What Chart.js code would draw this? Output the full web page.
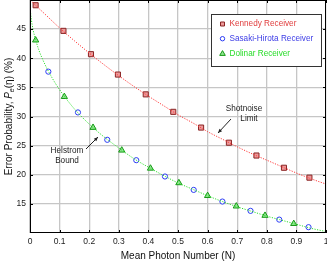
<!DOCTYPE html>
<html lang="en">
<head>
    <meta charset="UTF-8">
    <title>Error Probability vs Mean Photon Number</title>
    <script src="https://cdn.jsdelivr.net/npm/chart.js"></script>
    <style>
        html, body { margin: 0; padding: 0; background: #fff; }
        .box { width: 327px; height: 262px; position: relative; }
    </style>
</head>
<body>
    <div class="box">
        <canvas id="grafico" width="327" height="262"></canvas>
    </div>

<script>
    // smooth theory curves
    const curvaN = [0, 0.05, 0.1, 0.15, 0.2, 0.25, 0.3, 0.35, 0.4, 0.45, 0.5, 0.55, 0.6, 0.65, 0.7, 0.75, 0.8, 0.85, 0.9, 0.95, 1];
    const shotnoise = [50, 47.6, 45.2, 43.0, 40.9, 38.9, 37.0, 35.2, 33.5, 31.9, 30.3, 28.9, 27.4, 26.1, 24.8, 23.6, 22.5, 21.4, 20.3, 19.3, 18.4];

    const helstromN = [0, 0.002, 0.005, 0.01, 0.02, 0.03, 0.05, 0.075, 0.1, 0.15, 0.2, 0.25, 0.3, 0.35, 0.4, 0.45, 0.5, 0.55, 0.6, 0.65, 0.7, 0.75, 0.8, 0.85, 0.9, 0.95, 1];
    const helstrom = [50, 47.8, 46.5, 45.0, 43.0, 41.4, 39.0, 36.6, 34.6, 31.3, 28.7, 26.5, 24.6, 22.8, 21.3, 19.9, 18.6, 17.5, 16.4, 15.4, 14.5, 13.7, 12.9, 12.2, 11.5, 10.8, 10.25];

    // receiver points
    const kennedyN = [0.019, 0.113, 0.206, 0.297, 0.391, 0.484, 0.578, 0.672, 0.765, 0.858, 0.944];
    const kennedyP = [49.1, 44.7, 40.7, 37.2, 33.8, 30.8, 28.1, 25.5, 23.3, 21.2, 19.5];

    const sasakiN = [0.062, 0.162, 0.261, 0.359, 0.456, 0.553, 0.650, 0.745, 0.842, 0.941];
    const sasakiP = [37.7, 30.7, 26.0, 22.5, 19.7, 17.4, 15.4, 13.8, 12.3, 11.0];

    const dolinarN = [0.019, 0.116, 0.213, 0.310, 0.407, 0.503, 0.600, 0.697, 0.794, 0.891];
    const dolinarP = [43.1, 33.4, 28.1, 24.2, 21.1, 18.6, 16.4, 14.6, 13.0, 11.6];

    const xTicks = [0, 0.1, 0.2, 0.3, 0.4, 0.5, 0.6, 0.7, 0.8, 0.9, 1];
    const yTicks = [15, 20, 25, 30, 35, 40, 45];

    const legenda = [
        { nome: 'Kennedy Receiver', cor: '#e03c3c', estilo: 'rect' },
        { nome: 'Sasaki-Hirota Receiver', cor: '#3c3ce6', estilo: 'circle' },
        { nome: 'Dolinar Receiver', cor: '#28dc28', estilo: 'triangle' }
    ];

    function pares(xs, ys) {
        let out = [];
        for (let i = 0; i < xs.length; i++) out.push({ x: xs[i], y: ys[i] });
        return out;
    }

    const fonte = '"Liberation Sans", Arial, sans-serif';

    function seta(ctx, x1, y1, x2, y2) {
        // line from (x1,y1) with head at (x2,y2)
        ctx.strokeStyle = '#222';
        ctx.fillStyle = '#222';
        ctx.lineWidth = 1;
        ctx.beginPath();
        ctx.moveTo(x1, y1);
        ctx.lineTo(x2, y2);
        ctx.stroke();
        const ang = Math.atan2(y2 - y1, x2 - x1);
        const L = 4.5, W = 0.4;
        ctx.beginPath();
        ctx.moveTo(x2, y2);
        ctx.lineTo(x2 - L * Math.cos(ang - W), y2 - L * Math.sin(ang - W));
        ctx.lineTo(x2 - L * Math.cos(ang + W), y2 - L * Math.sin(ang + W));
        ctx.closePath();
        ctx.fill();
    }

    // pin the plot box to where it sits in the reference
    const caixa = {
        id: 'caixa',
        afterLayout(chart) {
            const a = chart.chartArea;
            a.top = 0;
            a.right = 326;
            a.width = a.right - a.left;
            a.height = a.bottom - a.top;
            const sx = chart.scales.x, sy = chart.scales.y;
            sx.right = 326; sx.width = sx.right - sx.left; sx.configure();
            sy.top = 0; sy.height = sy.bottom - sy.top; sy.configure();
        }
    };

    const extras = {
        id: 'extras',
        afterDraw(chart) {
            const ctx = chart.ctx;
            const a = chart.chartArea;
            const sx = chart.scales.x, sy = chart.scales.y;
            ctx.save();

            // box + inward ticks
            ctx.strokeStyle = '#000';
            ctx.lineWidth = 1;
            ctx.strokeRect(a.left + 0.5, a.top + 0.5, a.right - a.left - 1, a.bottom - a.top - 1);
            ctx.beginPath();
            xTicks.forEach(v => {
                const px = Math.round(sx.getPixelForValue(v)) + 0.5;
                ctx.moveTo(px, a.bottom); ctx.lineTo(px, a.bottom - 3);
                ctx.moveTo(px, a.top); ctx.lineTo(px, a.top + 3);
            });
            yTicks.forEach(v => {
                const py = Math.round(sy.getPixelForValue(v)) + 0.5;
                ctx.moveTo(a.left, py); ctx.lineTo(a.left + 3, py);
                ctx.moveTo(a.right, py); ctx.lineTo(a.right - 3, py);
            });
            ctx.stroke();

            // y title with italic P and subscript e
            ctx.fillStyle = '#111';
            ctx.translate(8, (a.top + a.bottom) / 2);
            ctx.rotate(-Math.PI / 2);
            const partes = [
                { t: 'Error Probability, ', f: '10px ' + fonte, dy: 0 },
                { t: 'P', f: 'italic 10px ' + fonte, dy: 0 },
                { t: 'e', f: 'italic 7px ' + fonte, dy: 2.5 },
                { t: '(\u03B7) (%)', f: '10px ' + fonte, dy: 0 }
            ];
            let total = 0;
            partes.forEach(p => { ctx.font = p.f; p.w = ctx.measureText(p.t).width; total += p.w; });
            let cx = -total / 2;
            ctx.textBaseline = 'alphabetic';
            ctx.textAlign = 'left';
            partes.forEach(p => { ctx.font = p.f; ctx.fillText(p.t, cx, 3.5 + p.dy); cx += p.w; });
            ctx.setTransform(1, 0, 0, 1, 0, 0);

            // legend box
            const lx = 211, ly = 14, lw = 110, lh = 52;
            ctx.fillStyle = '#fff';
            ctx.fillRect(lx, ly, lw, lh);
            ctx.strokeStyle = '#333';
            ctx.strokeRect(lx + 0.5, ly + 0.5, lw, lh);
            ctx.font = '8.2px ' + fonte;
            ctx.textBaseline = 'middle';
            legenda.forEach((item, i) => {
                const yy = ly + 10 + i * 14.7;
                const ds = chart.data.datasets[2 + i];
                ctx.lineWidth = 1;
                ctx.strokeStyle = ds.borderColor;
                ctx.fillStyle = ds.backgroundColor;
                ctx.beginPath();
                if (item.estilo === 'rect') {
                    ctx.rect(220.5, yy - 2, 4, 4);
                } else if (item.estilo === 'circle') {
                    ctx.arc(222.5, yy, 2.2, 0, Math.PI * 2);
                } else {
                    ctx.moveTo(222.5, yy - 2.8); ctx.lineTo(225.3, yy + 2); ctx.lineTo(219.7, yy + 2); ctx.closePath();
                }
                ctx.fill();
                ctx.stroke();
                ctx.fillStyle = item.cor;
                ctx.fillText(item.nome, 229.5, yy);
            });

            // annotations
            ctx.fillStyle = '#222';
            ctx.font = '8.2px ' + fonte;
            ctx.textAlign = 'center';
            ctx.fillText('Shotnoise', 244, 109);
            ctx.fillText('Limit', 249, 119);
            seta(ctx, 231, 119, 218, 133);
            ctx.fillText('Helstrom', 67, 151);
            ctx.fillText('Bound', 67, 161);
            seta(ctx, 86, 149, 98, 137);

            ctx.restore();
        }
    };

    const ctxG = document.getElementById('grafico').getContext('2d');
    const meuGrafico = new Chart(ctxG, {
        type: 'scatter',
        data: {
            datasets: [
                {
                    label: 'Shotnoise',
                    data: pares(curvaN, shotnoise),
                    showLine: true,
                    borderColor: '#ff3b3b',
                    borderWidth: 1,
                    borderDash: [1.2, 1.4],
                    pointRadius: 0,
                    cubicInterpolationMode: 'monotone'
                },
                {
                    label: 'Helstrom',
                    data: pares(helstromN, helstrom),
                    showLine: true,
                    borderColor: '#2ee02e',
                    borderWidth: 1,
                    borderDash: [1.2, 1.4],
                    pointRadius: 0,
                    cubicInterpolationMode: 'monotone'
                },
                {
                    label: 'Kennedy Receiver',
                    data: pares(kennedyN, kennedyP),
                    pointStyle: 'rect',
                    pointRadius: 3.6,
                    borderColor: '#8a2424',
                    backgroundColor: '#ec9a9a',
                    borderWidth: 1
                },
                {
                    label: 'Sasaki-Hirota Receiver',
                    data: pares(sasakiN, sasakiP),
                    pointStyle: 'circle',
                    pointRadius: 2.6,
                    borderColor: '#2b3cf5',
                    backgroundColor: 'rgba(255,255,255,0.9)',
                    borderWidth: 1
                },
                {
                    label: 'Dolinar Receiver',
                    data: pares(dolinarN, dolinarP),
                    pointStyle: 'triangle',
                    pointRadius: 3.6,
                    borderColor: '#169a16',
                    backgroundColor: '#8fe58f',
                    borderWidth: 1
                }
            ]
        },
        options: {
            responsive: false,
            animation: false,
            devicePixelRatio: 1,
            layout: { padding: { top: 0, right: 1, left: 0, bottom: 0 } },
            plugins: {
                legend: { display: false },
                tooltip: { enabled: false }
            },
            scales: {
                x: {
                    type: 'linear',
                    min: 0,
                    max: 1,
                    afterBuildTicks: s => { s.ticks = xTicks.map(v => ({ value: v })); },
                    afterFit: s => { s.height = 29; },
                    ticks: {
                        color: '#222',
                        font: { family: fonte, size: 8.5 },
                        padding: 4,
                        maxRotation: 0,
                        callback: v => (v === 0 || v === 1) ? String(v) : v.toFixed(1)
                    },
                    grid: { color: '#c6c6c6', lineWidth: 1.3, drawTicks: false },
                    border: { display: false },
                    title: {
                        display: true,
                        text: 'Mean Photon Number (N)',
                        color: '#111',
                        font: { family: fonte, size: 10 },
                        padding: { top: 0, bottom: 0 }
                    }
                },
                y: {
                    type: 'linear',
                    min: 10,
                    max: 50,
                    afterBuildTicks: s => { s.ticks = yTicks.map(v => ({ value: v })); },
                    afterFit: s => { s.width = 30; },
                    ticks: {
                        color: '#222',
                        font: { family: fonte, size: 8.5 },
                        padding: 4
                    },
                    grid: { color: '#c6c6c6', lineWidth: 1.3, drawTicks: false },
                    border: { display: false }
                }
            }
        },
        plugins: [caixa, extras]
    });
</script>
</body>
</html>
